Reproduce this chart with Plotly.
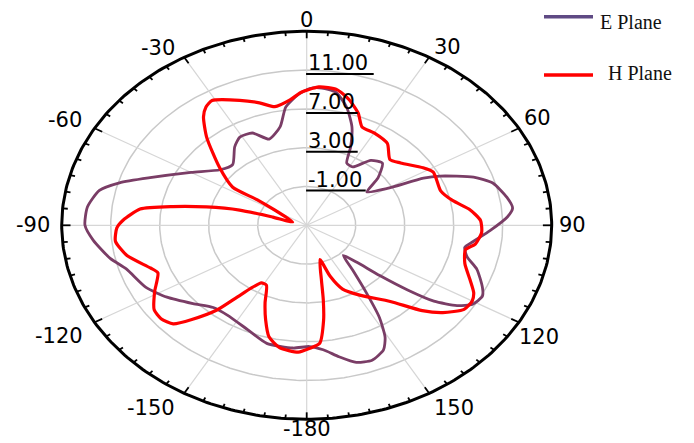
import numpy as np
import plotly.graph_objects as go

# Radiation pattern (gain in dB) versus angle in degrees, clockwise from 0 at top
E_THETA = [1, 5, 10, 15, 20, 24, 27, 32, 38, 44, 50, 55, 60, 63, 65, 70, 74, 80, 84, 87,
           92, 97, 100, 104, 108, 114, 117, 121, 124, 127, 129, 131, 133, 136, 141, 145, 148, 151, 154, 159,
           164, 169, 174, 179, -175, -165, -156, -145, -138, -131, -123, -116, -107, -102, -95, -90, -84, -78, -74, -69,
           -60, -51, -44, -36, -31, -25, -19, -12, -8, -3, 1]
E_GAIN = [9.1, 9.2, 8.9, 7.6, 5.8, 3.8, 2.2, 2.1, 3.5, 3.9, 2.6, 1.0, 2.6, 5.7, 7.0, 9.5, 10.8, 11.6, 11.9, 11.4,
          10.0, 8.7, 8.1, 8.5, 9.6, 10.7, 11.1, 10.8, 9.8, 8.0, 5.6, 2.9, 0.6, -0.7, 1.0, 3.5, 6.2, 8.2, 9.3, 9.9,
          9.7, 8.8, 7.9, 7.5, 7.7, 7.6, 6.8, 6.3, 6.4, 7.3, 8.6, 9.6, 10.4, 11.4, 12.5, 13.1, 13.0, 12.3, 10.9, 8.7,
          5.9, 4.1, 3.7, 5.0, 5.6, 5.5, 4.4, 5.4, 7.3, 8.5, 9.1]

H_THETA = [4, 10, 15, 20, 24, 30, 38, 45, 50, 58, 62, 66, 72, 78, 83, 88, 93, 98, 101, 107,
           113, 117, 120, 124, 129, 133, 139, 149, 156, 160, 163, 168, 170, 172, 175, 179, -177, -170, -165, -161,
           -157, -152, -148, -143, -140, -136, -133, -129, -125, -119, -112, -109, -102, -96, -91, -88, -83, -80, -77, -74,
           -73, -73, -57, -57, -50, -42, -37, -34, -31, -23, -17, -12, -6, -2, 4]
H_GAIN = [9.3, 9.2, 8.4, 7.3, 6.1, 6.0, 5.7, 4.6, 5.0, 6.2, 6.7, 6.6, 6.5, 7.2, 8.4, 9.2, 9.3, 8.9, 8.2, 8.5,
          9.5, 10.3, 10.6, 10.5, 9.3, 7.9, 5.4, 3.4, 2.2, 0.6, -1.3, 0.8, 2.8, 4.9, 7.2, 7.7, 8.1, 7.8, 6.9, 5.3,
          3.7, 2.0, 2.0, 4.0, 6.4, 8.5, 9.9, 10.3, 10.2, 9.2, 8.1, 8.5, 10.0, 10.7, 10.5, 10.0, 8.7, 6.1, 3.4, 0.7,
          -2.1, -3.8, -0.2, 2.2, 4.3, 7.2, 9.0, 9.7, 10.0, 9.0, 8.2, 7.5, 8.0, 8.7, 9.3]

R_MIN, R_MAX = -5.0, 15.0
RADIAL_TICKS = [-1, 3, 7, 11]
RADIAL_LABELS = ["-1.00", "3.00", "7.00", "11.00"]
ANGLE_TICKS = [0, 30, 60, 90, 120, 150, 180, -150, -120, -90, -60, -30]
ANGLE_LABELS = ["0", "30", "60", "90", "120", "150", "-180", "-150", "-120", "-90", "-60", "-30"]

W, H = 694, 443
CX, CY = 306.7, 225.3          # pole position in pixels
PX_X, PX_Y = 12.25, 9.7        # pixels per dB horizontally / vertically (elliptical frame)


def to_xy(theta_deg, gain):
    t = np.radians(np.asarray(theta_deg, dtype=float))
    rho = np.asarray(gain, dtype=float) - R_MIN
    return rho * np.sin(t), rho * np.cos(t)


fig = go.Figure()

# grid rings
full = np.linspace(0, 360, 361)
for g in RADIAL_TICKS:
    gx, gy = to_xy(full, np.full_like(full, g))
    fig.add_trace(go.Scatter(x=gx, y=gy, mode="lines", line=dict(color="#c9c9c9", width=1.5),
                             hoverinfo="skip"))

# spokes every 30 degrees
sx, sy = [], []
for a in range(0, 360, 30):
    x, y = to_xy([a, a], [R_MIN, R_MAX])
    sx += list(x) + [None]
    sy += list(y) + [None]
fig.add_trace(go.Scatter(x=sx, y=sy, mode="lines", line=dict(color="#d6d6d6", width=1.2), hoverinfo="skip"))

# outer frame
ox, oy = to_xy(full, np.full_like(full, R_MAX))
fig.add_trace(go.Scatter(x=ox, y=oy, mode="lines", line=dict(color="black", width=3), hoverinfo="skip"))

# inward ticks: minor every 5 degrees, major every 30
tx, ty = [], []
for a in range(0, 360, 5):
    ln = 0.72 if a % 30 == 0 else 0.42
    x, y = to_xy([a, a], [R_MAX, R_MAX - ln])
    tx += list(x) + [None]
    ty += list(y) + [None]
fig.add_trace(go.Scatter(x=tx, y=ty, mode="lines", line=dict(color="black", width=1.8), hoverinfo="skip"))

# pattern curves
ex, ey = to_xy(E_THETA, E_GAIN)
hx, hy = to_xy(H_THETA, H_GAIN)
fig.add_trace(go.Scatter(x=ex, y=ey, mode="lines", name="E Plane",
                         line=dict(color="#7a3d66", width=2.8, shape="spline", smoothing=0.6)))
fig.add_trace(go.Scatter(x=hx, y=hy, mode="lines", name="H Plane",
                         line=dict(color="#ff0000", width=3.2, shape="spline", smoothing=0.6)))

annotations = []
shapes = []

# angular labels around the frame: (xanchor, yanchor, xshift, yshift)
label_pos = {
    0: ("center", "middle", 0, 11), 30: ("left", "middle", 3, 10), 60: ("left", "middle", 3, 10),
    90: ("left", "middle", 5, 0), 120: ("left", "middle", -2, -15), 150: ("left", "middle", 3, -15),
    180: ("center", "bottom", 0, -(443 - 419.3)),
    -150: ("right", "middle", -7, -15), -120: ("right", "middle", -10, -14), -90: ("right", "middle", -10, 0),
    -60: ("right", "middle", -11, 8), -30: ("right", "middle", -7, 9),
}
for a, lab in zip(ANGLE_TICKS, ANGLE_LABELS):
    x, y = to_xy([a], [R_MAX])
    xa, ya, xs, ys = label_pos[a]
    annotations.append(dict(x=float(x[0]), y=float(y[0]), xref="x", yref="y", text=lab, showarrow=False,
                            xanchor=xa, yanchor=ya, xshift=xs, yshift=ys,
                            font=dict(family="DejaVu Sans", size=21, color="black")))

# radial labels, underlined, along the 0 degree spoke
underline_len = {"-1.00": 59, "3.00": 51, "7.00": 51, "11.00": 67}
for g, lab in zip(RADIAL_TICKS, RADIAL_LABELS):
    yline = (g - R_MIN) - 4.0 / PX_Y
    annotations.append(dict(x=0, y=yline, xref="x", yref="y", text=lab, showarrow=False,
                            xanchor="left", yanchor="bottom", xshift=-1, yshift=-3,
                            font=dict(family="DejaVu Sans", size=21, color="black")))
    shapes.append(dict(type="line", xref="x", yref="y", x0=-0.05, x1=underline_len[lab] / PX_X,
                       y0=yline, y1=yline, line=dict(color="black", width=2)))

# legend
legend_items = [("E Plane", "#5f4a84", 16.7, 598, 22), ("H Plane", "#ff0000", 75, 606, 72.5)]
for name, col, ly, tx0, ty0 in legend_items:
    shapes.append(dict(type="line", xref="paper", yref="paper", x0=544 / W, x1=593 / W,
                       y0=1 - ly / H, y1=1 - ly / H, line=dict(color=col, width=3.5)))
    annotations.append(dict(x=tx0 / W, y=1 - ty0 / H, xref="paper", yref="paper", text=name, showarrow=False,
                            xanchor="left", yanchor="middle",
                            font=dict(family="Liberation Serif", size=20, color="#111111")))

fig.update_layout(
    width=W, height=H, margin=dict(l=0, r=0, t=0, b=0), showlegend=False,
    xaxis=dict(range=[-CX / PX_X, (W - CX) / PX_X], visible=False, fixedrange=True),
    yaxis=dict(range=[-(H - CY) / PX_Y, CY / PX_Y], visible=False, fixedrange=True),
    plot_bgcolor="white", paper_bgcolor="white",
    annotations=annotations, shapes=shapes, hovermode=False,
)

fig.write_html("out.html")
